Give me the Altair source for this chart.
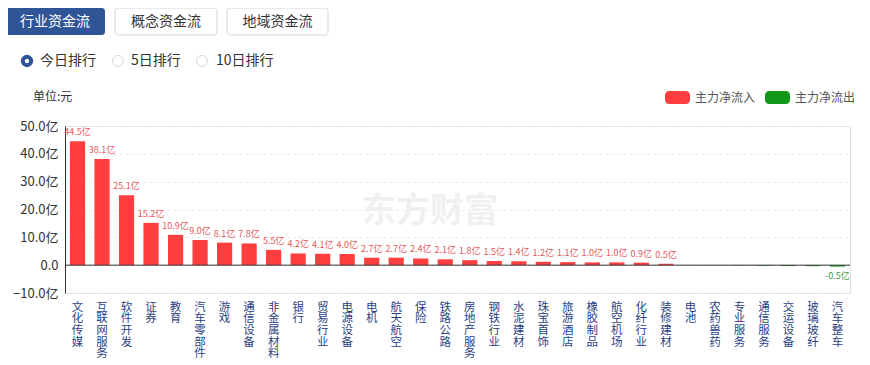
import altair as alt
import pandas as pd

F = "Noto Sans CJK SC"

categories = ["文化传媒", "互联网服务", "软件开发", "证券", "教育", "汽车零部件", "游戏", "通信设备",
              "非金属材料", "银行", "贸易行业", "电源设备", "电机", "航天航空", "保险", "铁路公路",
              "房地产服务", "钢铁行业", "水泥建材", "珠宝首饰", "旅游酒店", "橡胶制品", "航空机场",
              "化纤行业", "装修建材", "电池", "农药兽药", "专业服务", "通信服务", "交运设备",
              "玻璃玻纤", "汽车整车"]
values = [44.5, 38.1, 25.1, 15.2, 10.9, 9.0, 8.1, 7.8, 5.5, 4.2, 4.1, 4.0, 2.7, 2.7, 2.4, 2.1,
          1.8, 1.5, 1.4, 1.2, 1.1, 1.0, 1.0, 0.9, 0.5, -0.01, -0.05, -0.1, -0.2, -0.3, -0.35, -0.5]
y_ticks = [-10, 0, 10, 20, 30, 40, 50]
legend_names = ["主力净流入", "主力净流出"]
tabs = ["行业资金流", "概念资金流", "地域资金流"]
radios = ["今日排行", "5日排行", "10日排行"]

RED = "#ff3f3f"
GREEN = "#109618"

df = pd.DataFrame({
    "cat": categories,
    "val": values,
    "label": [f"{v:.1f}亿" if abs(v) >= 0.5 else "" for v in values],
    "sign": ["in" if v >= 0 else "out" for v in values],
})
dummy = pd.DataFrame({"a": [0]})

xenc = alt.X("cat:N", sort=categories,
             scale=alt.Scale(paddingInner=0.38, paddingOuter=0.2),
             axis=alt.Axis(title=None, domain=False, ticks=False, grid=False, labelAngle=0,
                           labelExpr="split(datum.label, '')", labelLineHeight=11.7,
                           labelBaseline="top", labelAlign="center", labelPadding=8,
                           labelFontSize=11.5, labelColor="#2b3f7f", labelFont=F,
                           labelOverlap=False))
yaxis = alt.Axis(title=None, values=y_ticks, domainColor="#333", ticks=False,
                 labelExpr="datum.value == 0 ? '0.0' : format(datum.value, '.1f') + '亿'",
                 labelFontSize=13, labelColor="#333", labelFont=F, labelPadding=7,
                 labelOverlap=False, labelBaseline="middle",
                 gridColor="#e8e8e8", gridDash=[3, 3])
yscale = alt.Scale(domain=[-10, 50], nice=False, zero=False)
yenc = alt.Y("val:Q", scale=yscale, axis=yaxis)

base = alt.Chart(df)
bars = base.mark_bar().encode(
    x=xenc, y=yenc,
    color=alt.Color("sign:N", scale=alt.Scale(domain=["in", "out"], range=[RED, GREEN]), legend=None),
)
lab_pos = base.transform_filter("datum.val >= 0").mark_text(
    baseline="bottom", dy=-4, fontSize=9, color="#e5585b", font=F
).encode(x=xenc, y=yenc, text="label:N")
lab_neg = base.transform_filter("datum.val < 0").mark_text(
    baseline="top", dy=5, fontSize=9, color="#3d9a3d", font=F
).encode(x=xenc, y=yenc, text="label:N")

zero = alt.Chart(dummy).mark_rule(color="#333", strokeWidth=1).encode(
    y=alt.Y("a:Q", scale=yscale, axis=yaxis))


def txt(s, x, y, size, color, align="left", weight="normal", font=F):
    return alt.Chart(dummy).mark_text(text=s, align=align, baseline="middle", fontSize=size,
                                      color=color, fontWeight=weight, font=font).encode(
        x=alt.value(x), y=alt.value(y))


def rect(x1, x2, y1, y2, fill, stroke=None, r=0):
    kw = dict(fill=fill, cornerRadius=r)
    if stroke:
        kw["stroke"] = stroke
        kw["strokeWidth"] = 1
    return alt.Chart(dummy).mark_rect(**kw).encode(
        x=alt.value(x1), x2=alt.value(x2), y=alt.value(y1), y2=alt.value(y2))


ox, oy = 65, 126
deco = []
# tabs
tab_x = [(5, 105), (115, 217), (227, 328)]
for i, (t, (a, b)) in enumerate(zip(tabs, tab_x)):
    if i == 0:
        deco.append(rect(a - ox, b - ox, 8 - oy, 35 - oy, "#2f5596", r=3))
        deco.append(txt(t, (a + b) / 2 - ox, 21.5 - oy, 14, "#ffffff", align="center"))
    else:
        deco.append(rect(a - ox, b - ox, 8 - oy, 35 - oy, "#ffffff", stroke="#cfd6e0", r=3))
        deco.append(txt(t, (a + b) / 2 - ox, 21.5 - oy, 14, "#333333", align="center"))
# radios
rad_c = [27, 118, 202]
rad_t = [40, 131, 216]
for i, (t, cx, tx) in enumerate(zip(radios, rad_c, rad_t)):
    if i == 0:
        deco.append(alt.Chart(dummy).mark_point(shape="circle", filled=False, size=70,
                                                strokeWidth=4, color="#2f5596", opacity=1).encode(
            x=alt.value(cx - ox), y=alt.value(61 - oy)))
    else:
        deco.append(alt.Chart(dummy).mark_point(shape="circle", filled=False, size=120,
                                                strokeWidth=1, color="#cfd6e0", opacity=1).encode(
            x=alt.value(cx - ox), y=alt.value(61 - oy)))
    deco.append(txt(t, tx - ox, 61 - oy, 14, "#333333"))
# unit title
deco.append(txt("单位:元", 33 - ox, 97 - oy, 12, "#333333"))
# legend
deco.append(rect(665 - ox, 690 - ox, 91 - oy, 104 - oy, RED, r=4))
deco.append(txt(legend_names[0], 695 - ox, 97.5 - oy, 12, "#555555"))
deco.append(rect(765 - ox, 790 - ox, 91 - oy, 104 - oy, GREEN, r=4))
deco.append(txt(legend_names[1], 795 - ox, 97.5 - oy, 12, "#555555"))
# faint brand watermark
deco.append(txt("东方财富", 430 - ox, 212 - oy, 34, "#f0f0f0", align="center", weight="bold"))

chart = alt.layer(*deco[-1:], bars, zero, lab_pos, lab_neg, *deco[:-1]).properties(
    width=785, height=167,
    autosize=alt.AutoSizeParams(type="none"),
    padding={"left": 57, "top": 118, "right": 10, "bottom": 80},
).configure_view(strokeWidth=0, stroke="transparent").configure(font=F).configure_axisY(
    labelOverlap=False)

chart.save("out.html", embed_options={"renderer": "svg", "actions": False})
